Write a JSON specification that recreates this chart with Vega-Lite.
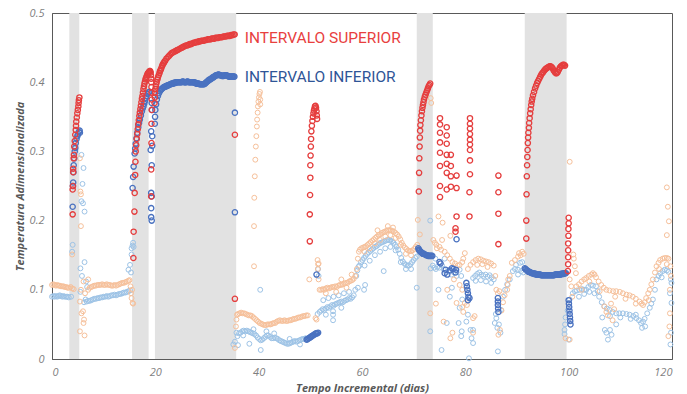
{
"$schema": "https://vega.github.io/schema/vega-lite/v6.json",
"width": 620,
"height": 346,
"autosize": {"type": "none"},
"padding": {"left": 52, "top": 13, "right": 15, "bottom": 35},
"background": "white",
"config": {
  "view": {"stroke": "#595959", "strokeWidth": 1},
  "axis": {"grid": false, "ticks": false, "domainColor": "#595959", "domainWidth": 1, "labelFont": "Open Sans", "labelFontStyle": "italic", "labelFontSize": 11, "labelColor": "#7f7f7f", "titleFont": "Open Sans", "titleFontStyle": "italic", "titleFontWeight": "bold", "titleFontSize": 11, "titleColor": "#595959"},
  "axisX": {"labelPadding": 7, "titlePadding": 5},
  "axisY": {"labelPadding": 8, "titlePadding": 4}
},
"datasets": {
  "bands": [{"ini": 3.35, "fim": 5.28}, {"ini": 15.5, "fim": 18.7}, {"ini": 19.92, "fim": 35.65}, {"ini": 70.6, "fim": 73.7}, {"ini": 91.5, "fim": 99.6}],
  "labels": [{"dia": 37.3, "temp": 0.4643, "rotulo": "INTERVALO SUPERIOR"}, {"dia": 37.3, "temp": 0.407, "rotulo": "INTERVALO INFERIOR"}],
  "bgInf": [
    {"dia":0,"temp":0.09},{"dia":0.25,"temp":0.091},{"dia":0.5,"temp":0.09},{"dia":0.75,"temp":0.091},{"dia":1,"temp":0.09},{"dia":1.25,"temp":0.091},{"dia":1.5,"temp":0.092},{"dia":1.75,"temp":0.091},{"dia":2,"temp":0.09},{"dia":2.25,"temp":0.091},{"dia":2.5,"temp":0.09},{"dia":2.75,"temp":0.09},{"dia":3,"temp":0.09},{"dia":3.25,"temp":0.089},{"dia":3.7,"temp":0.09},{"dia":4.0,"temp":0.165},{"dia":3.9,"temp":0.155},
    {"dia":5.7,"temp":0.295},{"dia":6.1,"temp":0.276},{"dia":5.9,"temp":0.253},{"dia":5.7,"temp":0.228},{"dia":6.0,"temp":0.225},{"dia":6.3,"temp":0.213},{"dia":5.5,"temp":0.131},{"dia":6.3,"temp":0.14},{"dia":5.8,"temp":0.12},{"dia":6.6,"temp":0.112},{"dia":6.8,"temp":0.104},{"dia":5.5,"temp":0.097},{"dia":6.5,"temp":0.086},{"dia":6.2,"temp":0.082},
    {"dia":6.7,"temp":0.083},{"dia":7.0,"temp":0.084},{"dia":7.3,"temp":0.084},{"dia":7.6,"temp":0.085},{"dia":7.9,"temp":0.086},{"dia":8.2,"temp":0.087},{"dia":8.5,"temp":0.087},{"dia":8.8,"temp":0.088},{"dia":9.1,"temp":0.088},{"dia":9.4,"temp":0.089},{"dia":9.7,"temp":0.089},{"dia":10.0,"temp":0.09},{"dia":10.3,"temp":0.09},{"dia":10.6,"temp":0.091},{"dia":10.9,"temp":0.09},{"dia":11.2,"temp":0.091},{"dia":11.5,"temp":0.092},{"dia":11.8,"temp":0.092},{"dia":12.1,"temp":0.093},{"dia":12.4,"temp":0.092},{"dia":12.7,"temp":0.093},{"dia":13.0,"temp":0.094},{"dia":13.3,"temp":0.094},{"dia":13.6,"temp":0.095},{"dia":13.9,"temp":0.096},{"dia":14.2,"temp":0.096},{"dia":14.5,"temp":0.097},{"dia":14.8,"temp":0.098},{"dia":15.1,"temp":0.099},
    {"dia":14.8,"temp":0.129},{"dia":15.1,"temp":0.136},{"dia":15.4,"temp":0.151},{"dia":15.6,"temp":0.164},{"dia":15.7,"temp":0.168},{"dia":15.4,"temp":0.16},{"dia":15.8,"temp":0.162},{"dia":15.3,"temp":0.125},
    {"dia":35.1,"temp":0.021},{"dia":35.4,"temp":0.025},{"dia":35.7,"temp":0.038},{"dia":35.9,"temp":0.033},{"dia":36.2,"temp":0.037},{"dia":36.5,"temp":0.038},{"dia":36.8,"temp":0.04},{"dia":37.1,"temp":0.041},{"dia":37.4,"temp":0.04},{"dia":37.7,"temp":0.041},{"dia":38.0,"temp":0.04},{"dia":38.3,"temp":0.039},{"dia":38.6,"temp":0.038},{"dia":38.9,"temp":0.037},{"dia":39.2,"temp":0.036},{"dia":39.5,"temp":0.034},{"dia":39.8,"temp":0.031},{"dia":40.1,"temp":0.029},{"dia":40.4,"temp":0.027},{"dia":40.7,"temp":0.028},{"dia":41.0,"temp":0.03},{"dia":41.3,"temp":0.032},{"dia":41.6,"temp":0.034},{"dia":41.9,"temp":0.034},{"dia":42.2,"temp":0.032},{"dia":42.5,"temp":0.03},{"dia":42.8,"temp":0.03},{"dia":43.1,"temp":0.031},{"dia":43.4,"temp":0.03},{"dia":43.7,"temp":0.029},{"dia":44.0,"temp":0.027},{"dia":44.3,"temp":0.026},{"dia":44.6,"temp":0.025},{"dia":44.9,"temp":0.024},{"dia":45.2,"temp":0.023},{"dia":45.5,"temp":0.022},{"dia":45.8,"temp":0.022},{"dia":46.1,"temp":0.023},{"dia":46.4,"temp":0.024},{"dia":46.7,"temp":0.025},{"dia":47.0,"temp":0.026},{"dia":47.3,"temp":0.025},{"dia":47.6,"temp":0.026},{"dia":47.9,"temp":0.027},{"dia":48.2,"temp":0.028},{"dia":48.5,"temp":0.029},{"dia":48.8,"temp":0.029},{"dia":49.1,"temp":0.03},
    {"dia":40.3,"temp":0.1},{"dia":40.4,"temp":0.013},{"dia":38.2,"temp":0.022},{"dia":36.0,"temp":0.02},{"dia":37,"temp":0.034},{"dia":39,"temp":0.043},{"dia":41.5,"temp":0.04},{"dia":43,"temp":0.037},{"dia":46,"temp":0.029},{"dia":48,"temp":0.021},
    {"dia":51.5,"temp":0.13},{"dia":51.6,"temp":0.12},{"dia":51.4,"temp":0.065},{"dia":51.8,"temp":0.068},{"dia":52.1,"temp":0.07},{"dia":52.4,"temp":0.072},{"dia":52.7,"temp":0.071},{"dia":53.0,"temp":0.073},{"dia":53.3,"temp":0.075},{"dia":53.6,"temp":0.074},{"dia":53.9,"temp":0.076},{"dia":54.2,"temp":0.078},{"dia":54.5,"temp":0.077},{"dia":54.8,"temp":0.079},{"dia":55.1,"temp":0.08},{"dia":55.4,"temp":0.081},{"dia":55.7,"temp":0.082},{"dia":56.0,"temp":0.083},{"dia":56.3,"temp":0.082},{"dia":56.6,"temp":0.084},{"dia":56.9,"temp":0.085},{"dia":57.2,"temp":0.086},{"dia":57.5,"temp":0.088},{"dia":57.8,"temp":0.087},{"dia":58.1,"temp":0.089},{"dia":58.4,"temp":0.092},{"dia":58.7,"temp":0.1},{"dia":58.9,"temp":0.12},{"dia":59.1,"temp":0.128},{"dia":59.3,"temp":0.133},{"dia":59.5,"temp":0.135},
    {"dia":52.5,"temp":0.085},{"dia":53.5,"temp":0.088},{"dia":54.5,"temp":0.09},{"dia":55.5,"temp":0.092},{"dia":56.5,"temp":0.095},{"dia":57.5,"temp":0.097},{"dia":54.4,"temp":0.069},{"dia":54.4,"temp":0.064},{"dia":54.4,"temp":0.056},{"dia":53,"temp":0.064},{"dia":56,"temp":0.074},
    {"dia":59.8,"temp":0.14},{"dia":60.1,"temp":0.143},{"dia":60.4,"temp":0.146},{"dia":60.7,"temp":0.149},{"dia":61.0,"temp":0.152},{"dia":61.3,"temp":0.154},{"dia":61.6,"temp":0.156},{"dia":61.9,"temp":0.158},{"dia":62.2,"temp":0.16},{"dia":62.5,"temp":0.162},{"dia":62.8,"temp":0.163},{"dia":63.1,"temp":0.165},{"dia":63.4,"temp":0.167},{"dia":63.7,"temp":0.168},{"dia":64.0,"temp":0.169},{"dia":64.3,"temp":0.17},{"dia":64.6,"temp":0.171},{"dia":64.9,"temp":0.172},{"dia":65.2,"temp":0.172},{"dia":65.5,"temp":0.171},{"dia":65.8,"temp":0.17},{"dia":66.1,"temp":0.168},{"dia":66.4,"temp":0.165},{"dia":66.7,"temp":0.162},{"dia":67.0,"temp":0.158},{"dia":67.3,"temp":0.152},{"dia":67.6,"temp":0.146},{"dia":67.9,"temp":0.141},{"dia":68.2,"temp":0.138},{"dia":68.5,"temp":0.136},{"dia":68.8,"temp":0.135},{"dia":69.1,"temp":0.135},{"dia":69.4,"temp":0.137},{"dia":69.7,"temp":0.14},{"dia":70.0,"temp":0.143},{"dia":70.3,"temp":0.146},{"dia":70.6,"temp":0.148},
    {"dia":60.5,"temp":0.135},{"dia":61.5,"temp":0.142},{"dia":62.5,"temp":0.15},{"dia":63.5,"temp":0.155},{"dia":64.5,"temp":0.16},{"dia":65.5,"temp":0.162},{"dia":66.5,"temp":0.157},{"dia":67.5,"temp":0.14},{"dia":68.5,"temp":0.13},{"dia":69.5,"temp":0.13},
    {"dia":60.6,"temp":0.107},{"dia":60.4,"temp":0.1},{"dia":64.2,"temp":0.127},{"dia":70.6,"temp":0.103},{"dia":59.2,"temp":0.103},
    {"dia":73.2,"temp":0.2},{"dia":73.3,"temp":0.131},{"dia":73.7,"temp":0.135},{"dia":74.0,"temp":0.132},{"dia":74.3,"temp":0.13},{"dia":74.6,"temp":0.133},{"dia":75.0,"temp":0.132},{"dia":75.5,"temp":0.135},{"dia":75.8,"temp":0.13},{"dia":76.3,"temp":0.125},{"dia":76.8,"temp":0.128},{"dia":77.3,"temp":0.122},{"dia":77.8,"temp":0.125},{"dia":78.3,"temp":0.12},{"dia":78.9,"temp":0.129},{"dia":79.2,"temp":0.12},{"dia":73.2,"temp":0.04},{"dia":75.4,"temp":0.013},{"dia":76.4,"temp":0.052},{"dia":77.4,"temp":0.103},{"dia":78.7,"temp":0.052},{"dia":79.3,"temp":0.04},{"dia":79.2,"temp":0.033},{"dia":78.9,"temp":0.074},{"dia":79.4,"temp":0.086},{"dia":80.5,"temp":0.064},{"dia":81.5,"temp":0.042},{"dia":81.5,"temp":0.023},{"dia":80.7,"temp":0.001},{"dia":81.0,"temp":0.042},{"dia":81.2,"temp":0.03},{"dia":80.2,"temp":0.054},{"dia":77.0,"temp":0.09},{"dia":74.8,"temp":0.1},{"dia":76.0,"temp":0.145},{"dia":74.2,"temp":0.145},
    {"dia":81.5,"temp":0.117},{"dia":81.9,"temp":0.12},{"dia":82.3,"temp":0.123},{"dia":82.7,"temp":0.125},{"dia":83.1,"temp":0.122},{"dia":83.5,"temp":0.12},{"dia":83.9,"temp":0.122},{"dia":84.3,"temp":0.119},{"dia":84.7,"temp":0.121},{"dia":85.1,"temp":0.118},{"dia":85.5,"temp":0.115},{"dia":82.0,"temp":0.113},{"dia":83.0,"temp":0.114},{"dia":84.0,"temp":0.112},{"dia":85.0,"temp":0.11},
    {"dia":85.7,"temp":0.052},{"dia":86.2,"temp":0.045},{"dia":86.3,"temp":0.011},{"dia":86.5,"temp":0.05},{"dia":86.0,"temp":0.059},{"dia":86.8,"temp":0.038},{"dia":86.9,"temp":0.071},{"dia":85.9,"temp":0.065},
    {"dia":87.3,"temp":0.09},{"dia":87.7,"temp":0.1},{"dia":88.1,"temp":0.108},{"dia":88.6,"temp":0.115},{"dia":89.2,"temp":0.127},{"dia":89.6,"temp":0.13},{"dia":90.2,"temp":0.129},{"dia":90.8,"temp":0.127},{"dia":91.2,"temp":0.125},{"dia":90.2,"temp":0.122},{"dia":89.8,"temp":0.136},{"dia":90.6,"temp":0.139},{"dia":91.0,"temp":0.14},
    {"dia":99.2,"temp":0.042},{"dia":99.2,"temp":0.036},{"dia":99.3,"temp":0.05},{"dia":99.4,"temp":0.06},{"dia":100.2,"temp":0.086},{"dia":100.8,"temp":0.095},{"dia":100.0,"temp":0.028},{"dia":99.8,"temp":0.07},
    {"dia":101.2,"temp":0.098},{"dia":101.6,"temp":0.099},{"dia":102.1,"temp":0.1},{"dia":102.6,"temp":0.101},{"dia":103.0,"temp":0.1},{"dia":103.4,"temp":0.1},{"dia":103.8,"temp":0.104},{"dia":104.3,"temp":0.107},{"dia":104.7,"temp":0.106},{"dia":105.3,"temp":0.105},{"dia":105.6,"temp":0.098},{"dia":105.9,"temp":0.09},{"dia":106.4,"temp":0.082},{"dia":106.9,"temp":0.076},{"dia":107.4,"temp":0.073},{"dia":107.9,"temp":0.071},{"dia":108.5,"temp":0.068},{"dia":109.2,"temp":0.066},{"dia":109.8,"temp":0.066},{"dia":110.5,"temp":0.066},{"dia":111.2,"temp":0.065},{"dia":111.8,"temp":0.064},{"dia":112.5,"temp":0.062},{"dia":113.1,"temp":0.059},{"dia":113.6,"temp":0.056},{"dia":114.0,"temp":0.052},{"dia":114.4,"temp":0.054},{"dia":114.7,"temp":0.058},{"dia":115.2,"temp":0.066},{"dia":115.7,"temp":0.074},{"dia":116.3,"temp":0.086},{"dia":116.7,"temp":0.1},{"dia":117.0,"temp":0.115},{"dia":117.4,"temp":0.12},{"dia":117.7,"temp":0.124},{"dia":118.2,"temp":0.127},{"dia":118.6,"temp":0.129},{"dia":119.0,"temp":0.128},{"dia":119.3,"temp":0.126},
    {"dia":102,"temp":0.09},{"dia":103,"temp":0.094},{"dia":104,"temp":0.097},{"dia":105,"temp":0.095},{"dia":108,"temp":0.062},{"dia":110,"temp":0.06},{"dia":112,"temp":0.058},{"dia":113,"temp":0.064},{"dia":116,"temp":0.08},{"dia":118,"temp":0.118},
    {"dia":107.3,"temp":0.038},{"dia":107.0,"temp":0.042},{"dia":108.0,"temp":0.042},{"dia":107.6,"temp":0.028},{"dia":108.3,"temp":0.035},{"dia":109.2,"temp":0.05},{"dia":106.5,"temp":0.06},{"dia":114.2,"temp":0.045},{"dia":114.8,"temp":0.047},
    {"dia":119.8,"temp":0.115},{"dia":119.9,"temp":0.081},{"dia":119.8,"temp":0.038},{"dia":119.7,"temp":0.021},{"dia":119.9,"temp":0.11},{"dia":119.6,"temp":0.095}
  ],
  "bgSup": [
    {"dia":0,"temp":0.107},{"dia":0.25,"temp":0.108},{"dia":0.5,"temp":0.107},{"dia":0.75,"temp":0.106},{"dia":1,"temp":0.107},{"dia":1.25,"temp":0.106},{"dia":1.5,"temp":0.106},{"dia":1.75,"temp":0.105},{"dia":2,"temp":0.105},{"dia":2.25,"temp":0.105},{"dia":2.5,"temp":0.104},{"dia":2.75,"temp":0.104},{"dia":3.0,"temp":0.103},{"dia":3.25,"temp":0.103},{"dia":3.6,"temp":0.104},{"dia":3.9,"temp":0.102},{"dia":4.2,"temp":0.101},{"dia":3.9,"temp":0.151},
    {"dia":5.4,"temp":0.29},{"dia":5.5,"temp":0.242},{"dia":5.6,"temp":0.238},{"dia":5.6,"temp":0.192},{"dia":6.1,"temp":0.112},{"dia":7.0,"temp":0.115},{"dia":5.4,"temp":0.083},{"dia":5.7,"temp":0.066},{"dia":6.0,"temp":0.069},{"dia":6.2,"temp":0.057},{"dia":6.1,"temp":0.052},{"dia":5.4,"temp":0.04},{"dia":6.3,"temp":0.034},{"dia":5.6,"temp":0.1},{"dia":6.4,"temp":0.095},
    {"dia":7.0,"temp":0.1},{"dia":7.3,"temp":0.103},{"dia":7.6,"temp":0.104},{"dia":7.9,"temp":0.105},{"dia":8.2,"temp":0.106},{"dia":8.5,"temp":0.106},{"dia":8.8,"temp":0.107},{"dia":9.1,"temp":0.107},{"dia":9.4,"temp":0.107},{"dia":9.7,"temp":0.108},{"dia":10.0,"temp":0.107},{"dia":10.3,"temp":0.107},{"dia":10.6,"temp":0.108},{"dia":10.9,"temp":0.107},{"dia":11.2,"temp":0.107},{"dia":11.5,"temp":0.106},{"dia":11.8,"temp":0.106},{"dia":12.1,"temp":0.107},{"dia":12.4,"temp":0.106},{"dia":12.7,"temp":0.107},{"dia":13.0,"temp":0.108},{"dia":13.3,"temp":0.109},{"dia":13.6,"temp":0.11},{"dia":13.9,"temp":0.11},{"dia":14.2,"temp":0.111},{"dia":14.5,"temp":0.112},{"dia":14.8,"temp":0.113},{"dia":15.0,"temp":0.114},
    {"dia":15.3,"temp":0.095},{"dia":15.4,"temp":0.088},{"dia":15.6,"temp":0.081},{"dia":15.7,"temp":0.08},{"dia":15.5,"temp":0.1},{"dia":15.2,"temp":0.105},
    {"dia":35.4,"temp":0.016},{"dia":35.6,"temp":0.047},{"dia":35.7,"temp":0.057},{"dia":35.8,"temp":0.064},
    {"dia":36.0,"temp":0.065},{"dia":36.3,"temp":0.066},{"dia":36.6,"temp":0.067},{"dia":36.9,"temp":0.066},{"dia":37.2,"temp":0.066},{"dia":37.5,"temp":0.065},{"dia":37.8,"temp":0.064},{"dia":38.1,"temp":0.063},{"dia":38.4,"temp":0.063},{"dia":38.7,"temp":0.062},{"dia":39.0,"temp":0.06},{"dia":39.3,"temp":0.058},{"dia":39.6,"temp":0.056},{"dia":39.9,"temp":0.054},{"dia":40.2,"temp":0.052},{"dia":40.5,"temp":0.051},{"dia":40.8,"temp":0.05},{"dia":41.1,"temp":0.049},{"dia":41.4,"temp":0.049},{"dia":41.7,"temp":0.05},{"dia":42.0,"temp":0.05},{"dia":42.3,"temp":0.05},{"dia":42.6,"temp":0.051},{"dia":42.9,"temp":0.052},{"dia":43.2,"temp":0.052},{"dia":43.5,"temp":0.054},{"dia":43.8,"temp":0.055},{"dia":44.1,"temp":0.056},{"dia":44.4,"temp":0.055},{"dia":44.7,"temp":0.055},{"dia":45.0,"temp":0.056},{"dia":45.3,"temp":0.055},{"dia":45.6,"temp":0.055},{"dia":45.9,"temp":0.056},{"dia":46.2,"temp":0.056},{"dia":46.5,"temp":0.057},{"dia":46.8,"temp":0.058},{"dia":47.1,"temp":0.058},{"dia":47.4,"temp":0.059},{"dia":47.7,"temp":0.06},{"dia":48.0,"temp":0.06},{"dia":48.3,"temp":0.061},{"dia":48.6,"temp":0.062},{"dia":48.9,"temp":0.062},{"dia":49.2,"temp":0.063},{"dia":49.5,"temp":0.063},
    {"dia":39.1,"temp":0.134},{"dia":39.1,"temp":0.192},{"dia":39.15,"temp":0.233},{"dia":39.25,"temp":0.264},{"dia":39.35,"temp":0.288},{"dia":39.45,"temp":0.307},{"dia":39.55,"temp":0.322},{"dia":39.65,"temp":0.336},{"dia":39.7,"temp":0.346},{"dia":39.8,"temp":0.356},{"dia":39.85,"temp":0.365},{"dia":39.95,"temp":0.372},{"dia":40.05,"temp":0.378},{"dia":40.15,"temp":0.383},{"dia":40.25,"temp":0.386},{"dia":40.3,"temp":0.375},{"dia":40.3,"temp":0.368},
    {"dia":49.8,"temp":0.115},{"dia":51.4,"temp":0.143},{"dia":51.5,"temp":0.137},{"dia":51.45,"temp":0.13},{"dia":51.6,"temp":0.138},{"dia":51.6,"temp":0.115},{"dia":51.2,"temp":0.057},{"dia":51.0,"temp":0.059},
    {"dia":51.8,"temp":0.1},{"dia":52.1,"temp":0.1},{"dia":52.4,"temp":0.101},{"dia":52.7,"temp":0.1},{"dia":53.0,"temp":0.102},{"dia":53.3,"temp":0.103},{"dia":53.6,"temp":0.102},{"dia":53.9,"temp":0.103},{"dia":54.2,"temp":0.104},{"dia":54.5,"temp":0.104},{"dia":54.8,"temp":0.105},{"dia":55.1,"temp":0.104},{"dia":55.4,"temp":0.106},{"dia":55.7,"temp":0.107},{"dia":56.0,"temp":0.107},{"dia":56.3,"temp":0.108},{"dia":56.6,"temp":0.109},{"dia":56.9,"temp":0.11},{"dia":57.2,"temp":0.11},{"dia":57.5,"temp":0.112},{"dia":57.8,"temp":0.113},{"dia":58.1,"temp":0.114},{"dia":58.4,"temp":0.116},{"dia":58.7,"temp":0.12},{"dia":59.0,"temp":0.13},{"dia":59.2,"temp":0.145},{"dia":59.4,"temp":0.155},{"dia":59.6,"temp":0.158},
    {"dia":53,"temp":0.095},{"dia":55,"temp":0.097},{"dia":57,"temp":0.103},{"dia":58,"temp":0.122},{"dia":56,"temp":0.115},
    {"dia":59.9,"temp":0.16},{"dia":60.2,"temp":0.161},{"dia":60.5,"temp":0.162},{"dia":60.8,"temp":0.163},{"dia":61.1,"temp":0.165},{"dia":61.4,"temp":0.167},{"dia":61.7,"temp":0.169},{"dia":62.0,"temp":0.171},{"dia":62.3,"temp":0.173},{"dia":62.6,"temp":0.175},{"dia":62.9,"temp":0.177},{"dia":63.2,"temp":0.179},{"dia":63.5,"temp":0.18},{"dia":63.8,"temp":0.182},{"dia":64.1,"temp":0.183},{"dia":64.4,"temp":0.184},{"dia":64.7,"temp":0.185},{"dia":65.0,"temp":0.186},{"dia":65.3,"temp":0.186},{"dia":65.6,"temp":0.186},{"dia":65.9,"temp":0.185},{"dia":66.2,"temp":0.184},{"dia":66.5,"temp":0.182},{"dia":66.8,"temp":0.18},{"dia":67.1,"temp":0.177},{"dia":67.4,"temp":0.173},{"dia":67.7,"temp":0.168},{"dia":68.0,"temp":0.164},{"dia":68.3,"temp":0.161},{"dia":68.6,"temp":0.159},{"dia":68.9,"temp":0.157},{"dia":69.2,"temp":0.156},{"dia":69.5,"temp":0.156},{"dia":69.8,"temp":0.157},{"dia":70.1,"temp":0.159},{"dia":70.4,"temp":0.162},{"dia":70.7,"temp":0.165},
    {"dia":60.5,"temp":0.155},{"dia":61.5,"temp":0.16},{"dia":62.5,"temp":0.167},{"dia":63.5,"temp":0.172},{"dia":64.5,"temp":0.177},{"dia":65.5,"temp":0.179},{"dia":66.5,"temp":0.175},{"dia":67.5,"temp":0.165},{"dia":68.5,"temp":0.152},{"dia":69.5,"temp":0.15},{"dia":63,"temp":0.186},{"dia":65,"temp":0.192},{"dia":66,"temp":0.19},
    {"dia":70.8,"temp":0.201},{"dia":71.2,"temp":0.18},{"dia":73.3,"temp":0.377},{"dia":73.4,"temp":0.37},
    {"dia":73.8,"temp":0.172},{"dia":74.1,"temp":0.168},{"dia":74.4,"temp":0.165},{"dia":74.8,"temp":0.206},{"dia":75.6,"temp":0.197},{"dia":75.5,"temp":0.172},{"dia":74.5,"temp":0.16},{"dia":75.0,"temp":0.162},{"dia":75.3,"temp":0.158},{"dia":76.0,"temp":0.155},{"dia":76.5,"temp":0.15},{"dia":77.1,"temp":0.178},{"dia":77.0,"temp":0.145},{"dia":77.5,"temp":0.14},{"dia":78.0,"temp":0.138},{"dia":78.5,"temp":0.135},{"dia":78.9,"temp":0.136},{"dia":79.4,"temp":0.14},{"dia":79.9,"temp":0.153},{"dia":79.6,"temp":0.145},{"dia":73.2,"temp":0.066},{"dia":75.8,"temp":0.054},{"dia":77.1,"temp":0.03},{"dia":77.5,"temp":0.038},{"dia":78.3,"temp":0.081},{"dia":79.4,"temp":0.075},{"dia":79.6,"temp":0.068},{"dia":78.9,"temp":0.107},{"dia":79.4,"temp":0.1},{"dia":79.9,"temp":0.081},{"dia":80.3,"temp":0.078},{"dia":81.5,"temp":0.059},{"dia":81.8,"temp":0.062},{"dia":81.5,"temp":0.038},{"dia":74.3,"temp":0.08},{"dia":76.5,"temp":0.1},{"dia":77.8,"temp":0.115},
    {"dia":80.5,"temp":0.13},{"dia":81.0,"temp":0.136},{"dia":81.5,"temp":0.14},{"dia":82.0,"temp":0.143},{"dia":82.5,"temp":0.145},{"dia":83.0,"temp":0.144},{"dia":83.5,"temp":0.142},{"dia":84.0,"temp":0.141},{"dia":84.5,"temp":0.14},{"dia":85.0,"temp":0.138},{"dia":85.5,"temp":0.135},{"dia":82.3,"temp":0.136},{"dia":83.3,"temp":0.137},{"dia":84.3,"temp":0.133},{"dia":85.8,"temp":0.12},
    {"dia":86.0,"temp":0.1},{"dia":86.3,"temp":0.095},{"dia":86.6,"temp":0.098},{"dia":87.3,"temp":0.082},{"dia":87.6,"temp":0.092},{"dia":88.1,"temp":0.1},{"dia":88.2,"temp":0.107},{"dia":88.3,"temp":0.115},{"dia":88.6,"temp":0.12},{"dia":89.0,"temp":0.139},{"dia":89.6,"temp":0.143},{"dia":90.2,"temp":0.148},{"dia":90.4,"temp":0.153},{"dia":90.7,"temp":0.15},{"dia":91.0,"temp":0.155},{"dia":91.3,"temp":0.152},{"dia":86.7,"temp":0.042},{"dia":86.4,"temp":0.035},{"dia":87.0,"temp":0.07},
    {"dia":100.2,"temp":0.285},{"dia":99.4,"temp":0.03},{"dia":100.2,"temp":0.028},{"dia":100.9,"temp":0.151},{"dia":101.0,"temp":0.145},{"dia":101.2,"temp":0.134},{"dia":101.4,"temp":0.124},{"dia":100.5,"temp":0.105},{"dia":100.2,"temp":0.115},{"dia":100.7,"temp":0.09},
    {"dia":101.5,"temp":0.105},{"dia":102.0,"temp":0.108},{"dia":102.5,"temp":0.112},{"dia":103.0,"temp":0.115},{"dia":103.4,"temp":0.117},{"dia":103.9,"temp":0.12},{"dia":104.4,"temp":0.122},{"dia":104.7,"temp":0.124},{"dia":105.0,"temp":0.122},{"dia":105.3,"temp":0.118},{"dia":105.8,"temp":0.112},{"dia":106.3,"temp":0.107},{"dia":106.8,"temp":0.103},{"dia":107.3,"temp":0.1},{"dia":107.9,"temp":0.099},{"dia":108.6,"temp":0.098},{"dia":109.2,"temp":0.098},{"dia":109.9,"temp":0.097},{"dia":110.5,"temp":0.095},{"dia":111.2,"temp":0.093},{"dia":111.8,"temp":0.092},{"dia":112.4,"temp":0.09},{"dia":113.0,"temp":0.087},{"dia":113.7,"temp":0.083},{"dia":114.1,"temp":0.08},{"dia":114.4,"temp":0.078},{"dia":114.7,"temp":0.082},{"dia":115.0,"temp":0.088},{"dia":115.4,"temp":0.095},{"dia":115.7,"temp":0.1},{"dia":116.0,"temp":0.108},{"dia":116.3,"temp":0.115},{"dia":116.7,"temp":0.125},{"dia":117.0,"temp":0.134},{"dia":117.4,"temp":0.139},{"dia":117.7,"temp":0.143},{"dia":118.2,"temp":0.145},{"dia":118.6,"temp":0.146},{"dia":119.0,"temp":0.146},{"dia":119.3,"temp":0.145},
    {"dia":102.5,"temp":0.1},{"dia":104,"temp":0.112},{"dia":106,"temp":0.098},{"dia":109,"temp":0.09},{"dia":111,"temp":0.087},{"dia":113,"temp":0.08},{"dia":115.5,"temp":0.085},{"dia":117.5,"temp":0.13},{"dia":119,"temp":0.137},
    {"dia":106.9,"temp":0.076},{"dia":107.3,"temp":0.068},{"dia":107.6,"temp":0.063},{"dia":108.5,"temp":0.056},{"dia":108.8,"temp":0.072},{"dia":108.2,"temp":0.08},
    {"dia":119.0,"temp":0.248},{"dia":119.2,"temp":0.22},{"dia":119.4,"temp":0.199},{"dia":119.0,"temp":0.179},{"dia":119.7,"temp":0.134},{"dia":119.6,"temp":0.1},{"dia":119.6,"temp":0.066},{"dia":119.5,"temp":0.047},{"dia":119.3,"temp":0.033},{"dia":119.8,"temp":0.12}
  ],
  "inf": [
    {"dia":4.0,"temp":0.22},{"dia":4.05,"temp":0.25},{"dia":4.1,"temp":0.255},{"dia":4.15,"temp":0.27},{"dia":4.2,"temp":0.28},{"dia":4.3,"temp":0.29},{"dia":4.4,"temp":0.3},{"dia":4.5,"temp":0.305},{"dia":4.6,"temp":0.312},{"dia":4.75,"temp":0.318},{"dia":4.9,"temp":0.322},{"dia":5.05,"temp":0.325},{"dia":5.2,"temp":0.328},{"dia":5.35,"temp":0.33},{"dia":5.4,"temp":0.327},
    {"dia":15.6,"temp":0.247},{"dia":15.7,"temp":0.263},{"dia":15.8,"temp":0.278},{"dia":16.0,"temp":0.297},{"dia":16.1,"temp":0.304},{"dia":16.2,"temp":0.311},{"dia":16.35,"temp":0.319},{"dia":16.5,"temp":0.327},{"dia":16.7,"temp":0.335},{"dia":16.85,"temp":0.341},{"dia":17.0,"temp":0.346},{"dia":17.2,"temp":0.352},{"dia":17.4,"temp":0.358},{"dia":17.55,"temp":0.362},{"dia":17.7,"temp":0.365},{"dia":17.85,"temp":0.369},{"dia":18.0,"temp":0.373},{"dia":18.15,"temp":0.377},{"dia":18.3,"temp":0.38},{"dia":18.5,"temp":0.383},{"dia":18.7,"temp":0.385},{"dia":18.85,"temp":0.386},
    {"dia":19.2,"temp":0.329},{"dia":19.4,"temp":0.322},{"dia":19.4,"temp":0.308},{"dia":19.1,"temp":0.302},{"dia":19.3,"temp":0.28},{"dia":19.2,"temp":0.24},{"dia":19.3,"temp":0.235},{"dia":19.2,"temp":0.218},{"dia":19.2,"temp":0.205},{"dia":19.3,"temp":0.2},{"dia":19.3,"temp":0.37},{"dia":19.35,"temp":0.36},
    {"dia":19.9,"temp":0.34},{"dia":19.95,"temp":0.35},{"dia":20.0,"temp":0.36},{"dia":20.15,"temp":0.368},{"dia":20.3,"temp":0.375},{"dia":20.5,"temp":0.38},{"dia":20.7,"temp":0.384},{"dia":20.9,"temp":0.387},{"dia":21.05,"temp":0.389},{"dia":21.2,"temp":0.39},{"dia":21.35,"temp":0.391},{"dia":21.5,"temp":0.392},{"dia":21.65,"temp":0.393},{"dia":21.8,"temp":0.393},{"dia":21.95,"temp":0.394},{"dia":22.1,"temp":0.394},{"dia":22.25,"temp":0.395},{"dia":22.4,"temp":0.395},{"dia":22.55,"temp":0.396},{"dia":22.7,"temp":0.396},{"dia":22.85,"temp":0.397},{"dia":23.0,"temp":0.397},{"dia":23.15,"temp":0.398},{"dia":23.3,"temp":0.398},{"dia":23.45,"temp":0.398},{"dia":23.6,"temp":0.399},{"dia":23.75,"temp":0.399},{"dia":23.9,"temp":0.399},{"dia":24.05,"temp":0.4},{"dia":24.2,"temp":0.4},{"dia":24.35,"temp":0.4},{"dia":24.5,"temp":0.4},{"dia":24.65,"temp":0.4},{"dia":24.8,"temp":0.4},{"dia":24.95,"temp":0.4},{"dia":25.1,"temp":0.4},{"dia":25.25,"temp":0.401},{"dia":25.4,"temp":0.401},{"dia":25.55,"temp":0.4},{"dia":25.7,"temp":0.4},{"dia":25.85,"temp":0.4},{"dia":26.0,"temp":0.4},{"dia":26.15,"temp":0.401},{"dia":26.3,"temp":0.401},{"dia":26.45,"temp":0.4},{"dia":26.6,"temp":0.4},{"dia":26.75,"temp":0.4},{"dia":26.9,"temp":0.4},{"dia":27.05,"temp":0.4},{"dia":27.2,"temp":0.4},{"dia":27.35,"temp":0.4},{"dia":27.5,"temp":0.4},{"dia":27.65,"temp":0.399},{"dia":27.8,"temp":0.399},{"dia":27.95,"temp":0.398},{"dia":28.1,"temp":0.398},{"dia":28.25,"temp":0.398},{"dia":28.4,"temp":0.398},{"dia":28.55,"temp":0.397},{"dia":28.7,"temp":0.397},{"dia":28.85,"temp":0.397},{"dia":29.0,"temp":0.397},{"dia":29.15,"temp":0.397},{"dia":29.3,"temp":0.397},{"dia":29.45,"temp":0.397},{"dia":29.6,"temp":0.398},{"dia":29.75,"temp":0.399},{"dia":29.9,"temp":0.4},{"dia":30.05,"temp":0.401},{"dia":30.2,"temp":0.402},{"dia":30.35,"temp":0.403},{"dia":30.5,"temp":0.404},{"dia":30.65,"temp":0.404},{"dia":30.8,"temp":0.405},{"dia":30.95,"temp":0.406},{"dia":31.1,"temp":0.407},{"dia":31.25,"temp":0.407},{"dia":31.4,"temp":0.408},{"dia":31.55,"temp":0.409},{"dia":31.7,"temp":0.41},{"dia":31.85,"temp":0.41},{"dia":32.0,"temp":0.41},{"dia":32.15,"temp":0.411},{"dia":32.3,"temp":0.411},{"dia":32.45,"temp":0.41},{"dia":32.6,"temp":0.41},{"dia":32.75,"temp":0.41},{"dia":32.9,"temp":0.409},{"dia":33.05,"temp":0.409},{"dia":33.2,"temp":0.409},{"dia":33.35,"temp":0.41},{"dia":33.5,"temp":0.41},{"dia":33.65,"temp":0.41},{"dia":33.8,"temp":0.41},{"dia":33.95,"temp":0.409},{"dia":34.1,"temp":0.409},{"dia":34.25,"temp":0.408},{"dia":34.4,"temp":0.408},{"dia":34.55,"temp":0.408},{"dia":34.7,"temp":0.408},{"dia":34.85,"temp":0.408},{"dia":35.0,"temp":0.408},{"dia":35.15,"temp":0.408},{"dia":35.3,"temp":0.408},
    {"dia":35.4,"temp":0.356},{"dia":35.4,"temp":0.212},
    {"dia":49.3,"temp":0.028},{"dia":49.5,"temp":0.029},{"dia":49.7,"temp":0.03},{"dia":49.9,"temp":0.031},{"dia":50.1,"temp":0.032},{"dia":50.3,"temp":0.033},{"dia":50.5,"temp":0.034},{"dia":50.7,"temp":0.035},{"dia":50.9,"temp":0.036},{"dia":51.1,"temp":0.037},{"dia":51.3,"temp":0.037},{"dia":51.5,"temp":0.038},
    {"dia":51.2,"temp":0.122},
    {"dia":70.9,"temp":0.16},{"dia":71.0,"temp":0.158},{"dia":71.1,"temp":0.157},{"dia":71.2,"temp":0.156},{"dia":71.35,"temp":0.155},{"dia":71.5,"temp":0.154},{"dia":71.65,"temp":0.153},{"dia":71.8,"temp":0.152},{"dia":72.0,"temp":0.152},{"dia":72.2,"temp":0.151},{"dia":72.4,"temp":0.15},{"dia":72.6,"temp":0.15},{"dia":72.8,"temp":0.149},{"dia":73.0,"temp":0.149},{"dia":73.2,"temp":0.149},{"dia":73.4,"temp":0.149},{"dia":73.6,"temp":0.149},
    {"dia":75.0,"temp":0.14},{"dia":75.2,"temp":0.138},{"dia":76.0,"temp":0.124},{"dia":76.2,"temp":0.129},{"dia":76.5,"temp":0.122},{"dia":77.0,"temp":0.128},{"dia":77.4,"temp":0.131},{"dia":77.7,"temp":0.13},{"dia":78.2,"temp":0.129},{"dia":78.3,"temp":0.173},{"dia":78.1,"temp":0.125},
    {"dia":80.2,"temp":0.11},{"dia":80.3,"temp":0.105},{"dia":80.4,"temp":0.1},{"dia":80.5,"temp":0.095},{"dia":80.6,"temp":0.09},{"dia":80.8,"temp":0.088},{"dia":80.5,"temp":0.085},
    {"dia":86.3,"temp":0.088},{"dia":86.3,"temp":0.083},{"dia":86.3,"temp":0.078},{"dia":86.35,"temp":0.073},{"dia":86.4,"temp":0.068},
    {"dia":91.5,"temp":0.131},{"dia":91.65,"temp":0.13},{"dia":91.8,"temp":0.129},{"dia":91.95,"temp":0.128},{"dia":92.1,"temp":0.127},{"dia":92.25,"temp":0.126},{"dia":92.4,"temp":0.126},{"dia":92.55,"temp":0.125},{"dia":92.7,"temp":0.125},{"dia":92.85,"temp":0.124},{"dia":93.0,"temp":0.124},{"dia":93.15,"temp":0.124},{"dia":93.3,"temp":0.123},{"dia":93.45,"temp":0.123},{"dia":93.6,"temp":0.123},{"dia":93.75,"temp":0.122},{"dia":93.9,"temp":0.122},{"dia":94.05,"temp":0.122},{"dia":94.2,"temp":0.122},{"dia":94.35,"temp":0.122},{"dia":94.5,"temp":0.122},{"dia":94.65,"temp":0.121},{"dia":94.8,"temp":0.121},{"dia":94.95,"temp":0.121},{"dia":95.1,"temp":0.121},{"dia":95.25,"temp":0.121},{"dia":95.4,"temp":0.121},{"dia":95.55,"temp":0.121},{"dia":95.7,"temp":0.121},{"dia":95.85,"temp":0.121},{"dia":96.0,"temp":0.121},{"dia":96.15,"temp":0.121},{"dia":96.3,"temp":0.121},{"dia":96.45,"temp":0.121},{"dia":96.6,"temp":0.121},{"dia":96.75,"temp":0.121},{"dia":96.9,"temp":0.121},{"dia":97.05,"temp":0.121},{"dia":97.2,"temp":0.121},{"dia":97.35,"temp":0.122},{"dia":97.5,"temp":0.122},{"dia":97.65,"temp":0.122},{"dia":97.8,"temp":0.122},{"dia":97.95,"temp":0.122},{"dia":98.1,"temp":0.122},{"dia":98.25,"temp":0.122},{"dia":98.4,"temp":0.122},{"dia":98.55,"temp":0.123},{"dia":98.7,"temp":0.123},{"dia":98.85,"temp":0.123},{"dia":99.0,"temp":0.123},{"dia":99.15,"temp":0.124},{"dia":99.3,"temp":0.124},{"dia":99.45,"temp":0.124},
    {"dia":100.0,"temp":0.085},{"dia":100.05,"temp":0.08},{"dia":100.1,"temp":0.075},{"dia":100.15,"temp":0.07},{"dia":100.2,"temp":0.065},{"dia":100.25,"temp":0.06},{"dia":100.3,"temp":0.055},{"dia":100.35,"temp":0.05}
  ],
  "sup": [
    {"dia":4.0,"temp":0.209},{"dia":4.0,"temp":0.245},{"dia":4.05,"temp":0.25},{"dia":4.1,"temp":0.27},{"dia":4.1,"temp":0.275},{"dia":4.2,"temp":0.29},{"dia":4.25,"temp":0.295},{"dia":4.3,"temp":0.307},{"dia":4.4,"temp":0.315},{"dia":4.5,"temp":0.324},{"dia":4.6,"temp":0.331},{"dia":4.65,"temp":0.337},{"dia":4.7,"temp":0.343},{"dia":4.8,"temp":0.349},{"dia":4.9,"temp":0.355},{"dia":5.0,"temp":0.36},{"dia":5.1,"temp":0.365},{"dia":5.15,"temp":0.37},{"dia":5.2,"temp":0.374},{"dia":5.3,"temp":0.378},
    {"dia":15.75,"temp":0.146},{"dia":15.8,"temp":0.184},{"dia":15.95,"temp":0.213},{"dia":16.0,"temp":0.24},{"dia":16.1,"temp":0.266},{"dia":16.15,"temp":0.285},{"dia":16.2,"temp":0.3},{"dia":16.3,"temp":0.309},{"dia":16.4,"temp":0.318},{"dia":16.5,"temp":0.325},{"dia":16.6,"temp":0.332},{"dia":16.7,"temp":0.339},{"dia":16.8,"temp":0.345},{"dia":16.9,"temp":0.351},{"dia":17.0,"temp":0.356},{"dia":17.1,"temp":0.361},{"dia":17.2,"temp":0.366},{"dia":17.3,"temp":0.371},{"dia":17.4,"temp":0.376},{"dia":17.5,"temp":0.38},{"dia":17.6,"temp":0.385},{"dia":17.7,"temp":0.39},{"dia":17.8,"temp":0.394},{"dia":17.9,"temp":0.398},{"dia":18.0,"temp":0.401},{"dia":18.1,"temp":0.404},{"dia":18.2,"temp":0.406},{"dia":18.3,"temp":0.408},{"dia":18.4,"temp":0.41},{"dia":18.5,"temp":0.412},{"dia":18.6,"temp":0.413},{"dia":18.7,"temp":0.414},{"dia":18.8,"temp":0.415},{"dia":18.9,"temp":0.416},{"dia":19.0,"temp":0.416},{"dia":19.1,"temp":0.414},{"dia":19.15,"temp":0.41},{"dia":19.2,"temp":0.405},{"dia":19.2,"temp":0.4},{"dia":19.25,"temp":0.393},{"dia":19.25,"temp":0.385},{"dia":19.3,"temp":0.375},{"dia":19.3,"temp":0.36},{"dia":19.25,"temp":0.34},{"dia":19.25,"temp":0.312},{"dia":19.2,"temp":0.274},{"dia":19.2,"temp":0.235},
    {"dia":19.85,"temp":0.37},{"dia":19.9,"temp":0.378},{"dia":19.95,"temp":0.385},{"dia":20.0,"temp":0.39},{"dia":20.1,"temp":0.394},{"dia":20.15,"temp":0.397},{"dia":20.25,"temp":0.4},{"dia":20.4,"temp":0.404},{"dia":20.5,"temp":0.407},{"dia":20.65,"temp":0.41},{"dia":20.8,"temp":0.413},{"dia":20.9,"temp":0.416},{"dia":21.05,"temp":0.418},{"dia":21.15,"temp":0.42},{"dia":21.3,"temp":0.423},{"dia":21.4,"temp":0.425},{"dia":21.55,"temp":0.427},{"dia":21.65,"temp":0.428},{"dia":21.8,"temp":0.43},{"dia":21.9,"temp":0.431},{"dia":22.15,"temp":0.434},{"dia":22.4,"temp":0.436},{"dia":22.65,"temp":0.438},{"dia":22.9,"temp":0.44},{"dia":23.15,"temp":0.442},{"dia":23.4,"temp":0.443},{"dia":23.65,"temp":0.444},{"dia":23.9,"temp":0.445},{"dia":24.15,"temp":0.446},{"dia":24.4,"temp":0.447},{"dia":24.65,"temp":0.448},{"dia":24.9,"temp":0.449},{"dia":25.15,"temp":0.45},{"dia":25.4,"temp":0.451},{"dia":25.65,"temp":0.452},{"dia":25.9,"temp":0.453},{"dia":26.15,"temp":0.453},{"dia":26.4,"temp":0.454},{"dia":26.65,"temp":0.455},{"dia":26.9,"temp":0.455},{"dia":27.15,"temp":0.456},{"dia":27.4,"temp":0.457},{"dia":27.65,"temp":0.457},{"dia":27.9,"temp":0.458},{"dia":28.15,"temp":0.458},{"dia":28.4,"temp":0.459},{"dia":28.65,"temp":0.459},{"dia":28.9,"temp":0.46},{"dia":29.15,"temp":0.46},{"dia":29.4,"temp":0.46},{"dia":29.65,"temp":0.461},{"dia":29.9,"temp":0.461},{"dia":30.15,"temp":0.462},{"dia":30.4,"temp":0.462},{"dia":30.65,"temp":0.462},{"dia":30.9,"temp":0.463},{"dia":31.15,"temp":0.463},{"dia":31.4,"temp":0.463},{"dia":31.65,"temp":0.464},{"dia":31.9,"temp":0.464},{"dia":32.15,"temp":0.464},{"dia":32.4,"temp":0.465},{"dia":32.65,"temp":0.465},{"dia":32.9,"temp":0.465},{"dia":33.15,"temp":0.466},{"dia":33.4,"temp":0.466},{"dia":33.65,"temp":0.466},{"dia":33.9,"temp":0.467},{"dia":34.15,"temp":0.467},{"dia":34.4,"temp":0.467},{"dia":34.65,"temp":0.468},{"dia":34.9,"temp":0.468},{"dia":35.15,"temp":0.469},{"dia":35.35,"temp":0.469},
    {"dia":35.4,"temp":0.324},{"dia":35.4,"temp":0.087},
    {"dia":49.9,"temp":0.17},{"dia":49.9,"temp":0.209},{"dia":49.95,"temp":0.237},{"dia":50.0,"temp":0.262},{"dia":50.0,"temp":0.28},{"dia":50.05,"temp":0.294},{"dia":50.1,"temp":0.307},{"dia":50.15,"temp":0.318},{"dia":50.2,"temp":0.329},{"dia":50.3,"temp":0.337},{"dia":50.4,"temp":0.344},{"dia":50.5,"temp":0.35},{"dia":50.6,"temp":0.355},{"dia":50.7,"temp":0.359},{"dia":50.8,"temp":0.362},{"dia":50.9,"temp":0.365},{"dia":51.0,"temp":0.366},{"dia":51.1,"temp":0.363},{"dia":51.2,"temp":0.358},{"dia":51.25,"temp":0.352},{"dia":51.3,"temp":0.347},
    {"dia":71.0,"temp":0.242},{"dia":71.05,"temp":0.269},{"dia":71.1,"temp":0.29},{"dia":71.15,"temp":0.307},{"dia":71.2,"temp":0.32},{"dia":71.25,"temp":0.33},{"dia":71.3,"temp":0.338},{"dia":71.4,"temp":0.345},{"dia":71.5,"temp":0.352},{"dia":71.6,"temp":0.358},{"dia":71.7,"temp":0.363},{"dia":71.8,"temp":0.367},{"dia":71.9,"temp":0.371},{"dia":72.0,"temp":0.375},{"dia":72.15,"temp":0.379},{"dia":72.3,"temp":0.382},{"dia":72.45,"temp":0.385},{"dia":72.6,"temp":0.388},{"dia":72.75,"temp":0.391},{"dia":72.9,"temp":0.394},{"dia":73.05,"temp":0.396},{"dia":73.2,"temp":0.398},
    {"dia":75.1,"temp":0.348},{"dia":75.1,"temp":0.339},{"dia":75.1,"temp":0.327},{"dia":75.1,"temp":0.313},{"dia":75.1,"temp":0.298},{"dia":75.1,"temp":0.279},{"dia":75.1,"temp":0.25},{"dia":75.1,"temp":0.234},
    {"dia":76.4,"temp":0.335},{"dia":76.4,"temp":0.323},{"dia":76.4,"temp":0.311},{"dia":76.4,"temp":0.295},{"dia":76.4,"temp":0.282},{"dia":76.4,"temp":0.269},{"dia":76.4,"temp":0.245},
    {"dia":77.2,"temp":0.295},{"dia":77.2,"temp":0.279},{"dia":77.2,"temp":0.264},{"dia":77.2,"temp":0.249},
    {"dia":78.3,"temp":0.265},{"dia":78.3,"temp":0.247},{"dia":78.3,"temp":0.206},{"dia":78.1,"temp":0.189},{"dia":78.1,"temp":0.184},
    {"dia":80.9,"temp":0.348},{"dia":80.9,"temp":0.34},{"dia":80.9,"temp":0.333},{"dia":80.9,"temp":0.325},{"dia":80.9,"temp":0.317},{"dia":80.9,"temp":0.31},{"dia":80.9,"temp":0.302},{"dia":80.9,"temp":0.287},{"dia":80.9,"temp":0.267},{"dia":80.8,"temp":0.241},{"dia":80.8,"temp":0.206},
    {"dia":86.4,"temp":0.265},{"dia":86.4,"temp":0.241},{"dia":86.4,"temp":0.21},{"dia":86.4,"temp":0.166},
    {"dia":91.8,"temp":0.174},{"dia":91.8,"temp":0.2},{"dia":91.85,"temp":0.238},{"dia":91.9,"temp":0.264},{"dia":91.95,"temp":0.28},{"dia":92.0,"temp":0.292},{"dia":92.05,"temp":0.302},{"dia":92.1,"temp":0.312},{"dia":92.15,"temp":0.32},{"dia":92.2,"temp":0.327},{"dia":92.3,"temp":0.334},{"dia":92.35,"temp":0.341},{"dia":92.45,"temp":0.348},{"dia":92.55,"temp":0.355},{"dia":92.65,"temp":0.361},{"dia":92.75,"temp":0.367},{"dia":92.85,"temp":0.372},{"dia":92.95,"temp":0.376},{"dia":93.1,"temp":0.381},{"dia":93.3,"temp":0.386},{"dia":93.5,"temp":0.391},{"dia":93.7,"temp":0.395},{"dia":93.9,"temp":0.399},{"dia":94.1,"temp":0.402},{"dia":94.3,"temp":0.405},{"dia":94.5,"temp":0.408},{"dia":94.7,"temp":0.411},{"dia":94.9,"temp":0.413},{"dia":95.1,"temp":0.415},{"dia":95.3,"temp":0.417},{"dia":95.5,"temp":0.419},{"dia":95.7,"temp":0.42},{"dia":95.9,"temp":0.421},{"dia":96.1,"temp":0.422},{"dia":96.3,"temp":0.423},{"dia":96.5,"temp":0.423},{"dia":96.7,"temp":0.422},{"dia":96.9,"temp":0.42},{"dia":97.1,"temp":0.417},{"dia":97.3,"temp":0.415},{"dia":97.5,"temp":0.413},{"dia":97.7,"temp":0.413},{"dia":97.9,"temp":0.415},{"dia":98.1,"temp":0.418},{"dia":98.3,"temp":0.421},{"dia":98.5,"temp":0.423},{"dia":98.7,"temp":0.424},{"dia":98.9,"temp":0.425},{"dia":99.1,"temp":0.425},{"dia":99.3,"temp":0.424},
    {"dia":100.0,"temp":0.204},{"dia":100.0,"temp":0.196},{"dia":99.95,"temp":0.188},{"dia":99.95,"temp":0.178},{"dia":99.9,"temp":0.167},{"dia":99.9,"temp":0.157},{"dia":99.9,"temp":0.147},{"dia":99.9,"temp":0.137},{"dia":99.85,"temp":0.127}
  ]
},
"layer": [
  {
    "data": {"name": "bands"},
    "mark": {"type": "rect", "color": "#e2e2e2"},
    "encoding": {
      "x": {"field": "ini", "type": "quantitative", "scale": {"domain": [0, 120], "nice": false, "zero": false}, "axis": {"values": [0, 20, 40, 60, 80, 100, 120], "format": "d"}, "title": "Tempo Incremental (dias)"},
      "x2": {"field": "fim"}
    }
  },
  {
    "data": {"name": "bgInf"},
    "mark": {"type": "point", "shape": "circle", "filled": false, "size": 24, "strokeWidth": 1, "color": "#9dc3e6", "opacity": 1},
    "encoding": {
      "x": {"field": "dia", "type": "quantitative", "title": "Tempo Incremental (dias)"},
      "y": {"field": "temp", "type": "quantitative", "scale": {"domain": [0, 0.5], "nice": false}, "axis": {"values": [0, 0.05, 0.1, 0.15, 0.2, 0.25, 0.3, 0.35, 0.4, 0.45, 0.5], "format": "~g"}, "title": "Temperatura Adimensionalizada"}
    }
  },
  {
    "data": {"name": "bgSup"},
    "mark": {"type": "point", "shape": "circle", "filled": false, "size": 24, "strokeWidth": 1, "color": "#f6c09a", "opacity": 1},
    "encoding": {
      "x": {"field": "dia", "type": "quantitative", "title": "Tempo Incremental (dias)"},
      "y": {"field": "temp", "type": "quantitative", "title": "Temperatura Adimensionalizada"}
    }
  },
  {
    "data": {"name": "inf"},
    "mark": {"type": "point", "shape": "circle", "filled": false, "size": 28, "strokeWidth": 1.3, "color": "#4a72c0", "opacity": 1},
    "encoding": {
      "x": {"field": "dia", "type": "quantitative", "title": "Tempo Incremental (dias)"},
      "y": {"field": "temp", "type": "quantitative", "title": "Temperatura Adimensionalizada"}
    }
  },
  {
    "data": {"name": "sup"},
    "mark": {"type": "point", "shape": "circle", "filled": false, "size": 28, "strokeWidth": 1.3, "color": "#e53e3e", "opacity": 1},
    "encoding": {
      "x": {"field": "dia", "type": "quantitative", "title": "Tempo Incremental (dias)"},
      "y": {"field": "temp", "type": "quantitative", "title": "Temperatura Adimensionalizada"}
    }
  },
  {
    "data": {"name": "labels"},
    "mark": {"type": "text", "align": "left", "baseline": "middle", "font": "Roboto", "fontSize": 15.5},
    "encoding": {
      "x": {"field": "dia", "type": "quantitative", "title": "Tempo Incremental (dias)"},
      "y": {"field": "temp", "type": "quantitative", "title": "Temperatura Adimensionalizada"},
      "text": {"field": "rotulo"},
      "color": {"field": "rotulo", "type": "nominal", "scale": {"domain": ["INTERVALO SUPERIOR", "INTERVALO INFERIOR"], "range": ["#e8403e", "#2f5597"]}, "legend": null}
    }
  }
]
}
